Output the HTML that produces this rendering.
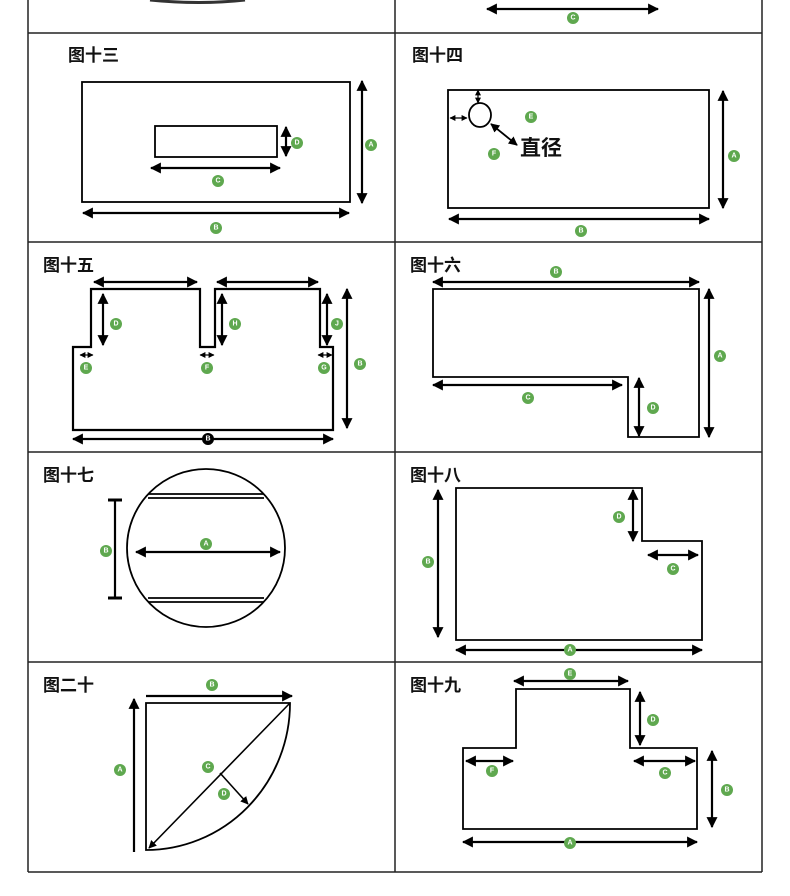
<!DOCTYPE html>
<html><head><meta charset="utf-8"><style>
html,body{margin:0;padding:0;background:#fff}
svg{display:block}
.t{font-family:"Liberation Sans","Noto Sans CJK SC",sans-serif;font-size:17px;font-weight:bold;fill:#111}
.l{font-family:"Liberation Sans",sans-serif;font-size:7px;font-weight:bold;fill:#fff;text-anchor:middle;dominant-baseline:central}
</style></head><body>
<svg width="790" height="896" viewBox="0 0 790 896" xmlns="http://www.w3.org/2000/svg">
<defs>
<marker id="a" viewBox="0 0 10 10" refX="9" refY="5" markerWidth="5" markerHeight="5" orient="auto-start-reverse" markerUnits="strokeWidth"><path d="M0,0L10,5L0,10z" fill="#000"/></marker>
<marker id="s" viewBox="0 0 10 10" refX="9" refY="5" markerWidth="5" markerHeight="5" orient="auto-start-reverse" markerUnits="strokeWidth"><path d="M0,0L10,5L0,10z" fill="#000"/></marker>
<g id="g"><circle r="6" fill="#5fa84f"/></g>
</defs>
<g stroke="#222" stroke-width="1.5" fill="none">
<line x1="28" y1="0" x2="28" y2="872"/><line x1="395" y1="0" x2="395" y2="872"/><line x1="762" y1="0" x2="762" y2="872"/>
<line x1="28" y1="33" x2="762" y2="33"/><line x1="28" y1="242" x2="762" y2="242"/><line x1="28" y1="452" x2="762" y2="452"/><line x1="28" y1="662" x2="762" y2="662"/><line x1="28" y1="872" x2="762" y2="872"/>
</g>
<path d="M150,0 Q200,5 245,0" stroke="#333" stroke-width="3" fill="none"/>
<g stroke="#000" stroke-width="2.2" fill="none">
<line x1="487" y1="9" x2="658" y2="9" marker-start="url(#a)" marker-end="url(#a)"/>
</g>
<use href="#g" x="573" y="18"/><text class="l" x="573" y="18">C</text>

<text class="t" x="68" y="61">图十三</text>
<text class="t" x="412" y="61">图十四</text>
<text class="t" x="43" y="271">图十五</text>
<text class="t" x="410" y="271">图十六</text>
<text class="t" x="43" y="481">图十七</text>
<text class="t" x="410" y="481">图十八</text>
<text class="t" x="43" y="691">图二十</text>
<text class="t" x="410" y="691">图十九</text>

<g stroke="#000" stroke-width="1.8" fill="none">
<rect x="82" y="82" width="268" height="120"/>
<rect x="155" y="126" width="122" height="31"/>
<rect x="448" y="90" width="261" height="118"/>
<ellipse cx="480" cy="115" rx="11" ry="12"/>
<path d="M73,430L73,347L91,347L91,289L200,289L200,347L215,347L215,289L320,289L320,347L333,347L333,430Z" stroke-width="2.2"/>
<path d="M433,289L699,289L699,437L628,437L628,377L433,377Z"/>
<circle cx="206" cy="548" r="79"/>
<line x1="148" y1="494" x2="264" y2="494"/><line x1="148" y1="498" x2="264" y2="498"/>
<line x1="148" y1="598" x2="264" y2="598"/><line x1="148" y1="602" x2="264" y2="602"/>
<path d="M456,488L642,488L642,541L702,541L702,640L456,640Z"/>
<path d="M146,703L290,703A144,147 0 0 1 146,850Z"/>
<path d="M463,748L516,748L516,689L630,689L630,748L697,748L697,829L463,829Z"/>
</g>

<g stroke="#000" stroke-width="2.2" fill="none">
<line x1="286" y1="127" x2="286" y2="156" marker-start="url(#a)" marker-end="url(#a)"/>
<line x1="151" y1="168" x2="280" y2="168" marker-start="url(#a)" marker-end="url(#a)"/>
<line x1="362" y1="81" x2="362" y2="203" marker-start="url(#a)" marker-end="url(#a)"/>
<line x1="83" y1="213" x2="349" y2="213" marker-start="url(#a)" marker-end="url(#a)"/>
<line x1="478" y1="90" x2="478" y2="103" stroke-width="1.2" marker-start="url(#s)" marker-end="url(#s)"/>
<line x1="450" y1="118" x2="467" y2="118" stroke-width="1.2" marker-start="url(#s)" marker-end="url(#s)"/>
<line x1="491" y1="124" x2="517" y2="145" stroke-width="1.8" marker-start="url(#a)" marker-end="url(#a)"/>
<line x1="723" y1="91" x2="723" y2="208" marker-start="url(#a)" marker-end="url(#a)"/>
<line x1="449" y1="219" x2="709" y2="219" marker-start="url(#a)" marker-end="url(#a)"/>
<line x1="94" y1="282" x2="197" y2="282" marker-start="url(#a)" marker-end="url(#a)"/>
<line x1="217" y1="282" x2="318" y2="282" marker-start="url(#a)" marker-end="url(#a)"/>
<line x1="103" y1="294" x2="103" y2="345" marker-start="url(#a)" marker-end="url(#a)"/>
<line x1="222" y1="294" x2="222" y2="345" marker-start="url(#a)" marker-end="url(#a)"/>
<line x1="327" y1="294" x2="327" y2="345" marker-start="url(#a)" marker-end="url(#a)"/>
<line x1="80" y1="355" x2="93" y2="355" stroke-width="1.2" marker-start="url(#s)" marker-end="url(#s)"/>
<line x1="200" y1="355" x2="214" y2="355" stroke-width="1.2" marker-start="url(#s)" marker-end="url(#s)"/>
<line x1="318" y1="355" x2="332" y2="355" stroke-width="1.2" marker-start="url(#s)" marker-end="url(#s)"/>
<line x1="347" y1="289" x2="347" y2="428" marker-start="url(#a)" marker-end="url(#a)"/>
<line x1="73" y1="439" x2="333" y2="439" marker-start="url(#a)" marker-end="url(#a)"/>
<line x1="433" y1="282" x2="699" y2="282" marker-start="url(#a)" marker-end="url(#a)"/>
<line x1="709" y1="289" x2="709" y2="437" marker-start="url(#a)" marker-end="url(#a)"/>
<line x1="433" y1="385" x2="622" y2="385" marker-start="url(#a)" marker-end="url(#a)"/>
<line x1="639" y1="378" x2="639" y2="436" marker-start="url(#a)" marker-end="url(#a)"/>
<line x1="136" y1="552" x2="280" y2="552" marker-start="url(#a)" marker-end="url(#a)"/>
<line x1="115" y1="501" x2="115" y2="597"/>
<line x1="108" y1="500" x2="122" y2="500" stroke-width="3"/>
<line x1="108" y1="598" x2="122" y2="598" stroke-width="3"/>
<line x1="438" y1="490" x2="438" y2="637" marker-start="url(#a)" marker-end="url(#a)"/>
<line x1="633" y1="490" x2="633" y2="541" marker-start="url(#a)" marker-end="url(#a)"/>
<line x1="648" y1="555" x2="698" y2="555" marker-start="url(#a)" marker-end="url(#a)"/>
<line x1="456" y1="650" x2="702" y2="650" marker-start="url(#a)" marker-end="url(#a)"/>
<line x1="146" y1="696" x2="292" y2="696" marker-end="url(#a)"/>
<line x1="134" y1="852" x2="134" y2="699" marker-end="url(#a)"/>
<line x1="290" y1="703" x2="149" y2="848" stroke-width="1.6" marker-end="url(#a)"/>
<line x1="220" y1="773" x2="248" y2="804" stroke-width="1.6" marker-end="url(#a)"/>
<line x1="514" y1="681" x2="628" y2="681" marker-start="url(#a)" marker-end="url(#a)"/>
<line x1="640" y1="692" x2="640" y2="745" marker-start="url(#a)" marker-end="url(#a)"/>
<line x1="466" y1="761" x2="513" y2="761" marker-start="url(#a)" marker-end="url(#a)"/>
<line x1="634" y1="761" x2="695" y2="761" marker-start="url(#a)" marker-end="url(#a)"/>
<line x1="712" y1="751" x2="712" y2="827" marker-start="url(#a)" marker-end="url(#a)"/>
<line x1="463" y1="842" x2="697" y2="842" marker-start="url(#a)" marker-end="url(#a)"/>
</g>

<text x="520" y="155" style="font-family:'Liberation Sans','Noto Sans CJK SC',sans-serif;font-size:21px;font-weight:bold;fill:#111">直径</text>

<g>
<use href="#g" x="297" y="143"/><text class="l" x="297" y="143">D</text>
<use href="#g" x="218" y="181"/><text class="l" x="218" y="181">C</text>
<use href="#g" x="371" y="145"/><text class="l" x="371" y="145">A</text>
<use href="#g" x="216" y="228"/><text class="l" x="216" y="228">B</text>
<use href="#g" x="531" y="117"/><text class="l" x="531" y="117">E</text>
<use href="#g" x="494" y="154"/><text class="l" x="494" y="154">F</text>
<use href="#g" x="734" y="156"/><text class="l" x="734" y="156">A</text>
<use href="#g" x="581" y="231"/><text class="l" x="581" y="231">B</text>
<use href="#g" x="116" y="324"/><text class="l" x="116" y="324">D</text>
<use href="#g" x="235" y="324"/><text class="l" x="235" y="324">H</text>
<use href="#g" x="337" y="324"/><text class="l" x="337" y="324">J</text>
<use href="#g" x="86" y="368"/><text class="l" x="86" y="368">E</text>
<use href="#g" x="207" y="368"/><text class="l" x="207" y="368">F</text>
<use href="#g" x="324" y="368"/><text class="l" x="324" y="368">G</text>
<use href="#g" x="360" y="364"/><text class="l" x="360" y="364">B</text>
<circle cx="208" cy="439" r="6" fill="#000"/><text class="l" x="208" y="439">B</text>
<use href="#g" x="556" y="272"/><text class="l" x="556" y="272">B</text>
<use href="#g" x="720" y="356"/><text class="l" x="720" y="356">A</text>
<use href="#g" x="528" y="398"/><text class="l" x="528" y="398">C</text>
<use href="#g" x="653" y="408"/><text class="l" x="653" y="408">D</text>
<use href="#g" x="206" y="544"/><text class="l" x="206" y="544">A</text>
<use href="#g" x="106" y="551"/><text class="l" x="106" y="551">B</text>
<use href="#g" x="428" y="562"/><text class="l" x="428" y="562">B</text>
<use href="#g" x="619" y="517"/><text class="l" x="619" y="517">D</text>
<use href="#g" x="673" y="569"/><text class="l" x="673" y="569">C</text>
<use href="#g" x="570" y="650"/><text class="l" x="570" y="650">A</text>
<use href="#g" x="212" y="685"/><text class="l" x="212" y="685">B</text>
<use href="#g" x="120" y="770"/><text class="l" x="120" y="770">A</text>
<use href="#g" x="208" y="767"/><text class="l" x="208" y="767">C</text>
<use href="#g" x="224" y="794"/><text class="l" x="224" y="794">D</text>
<use href="#g" x="570" y="674"/><text class="l" x="570" y="674">E</text>
<use href="#g" x="653" y="720"/><text class="l" x="653" y="720">D</text>
<use href="#g" x="492" y="771"/><text class="l" x="492" y="771">F</text>
<use href="#g" x="665" y="773"/><text class="l" x="665" y="773">C</text>
<use href="#g" x="727" y="790"/><text class="l" x="727" y="790">B</text>
<use href="#g" x="570" y="843"/><text class="l" x="570" y="843">A</text>
</g>
</svg>
</body></html>
